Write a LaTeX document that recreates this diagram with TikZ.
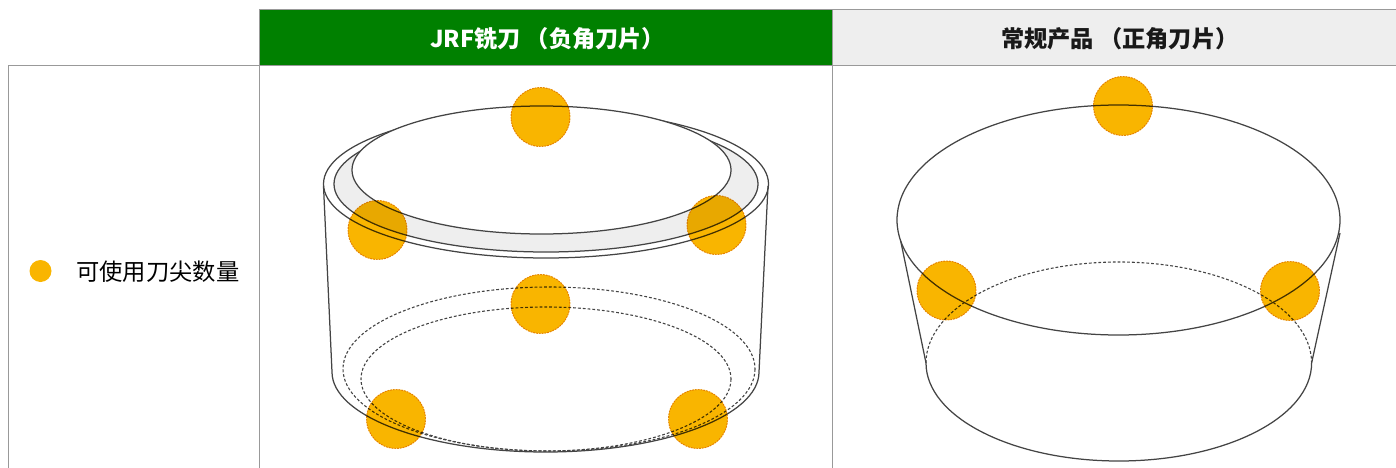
\documentclass[tikz,border=0pt]{standalone}
\usepackage{fontspec}
\setmainfont{Noto Sans CJK SC}
\definecolor{tipc}{HTML}{F9B500}
\definecolor{tipe}{HTML}{E89A10}
\definecolor{rule}{HTML}{999999}
\definecolor{jrfg}{HTML}{008000}
\definecolor{hdrg}{HTML}{EEEEEE}
\definecolor{inkc}{HTML}{444444}
\tikzset{
  tablerule/.style={draw=rule,line width=1pt},
  solidline/.style={draw=inkc,line width=1.25pt},
  hiddenline/.style={draw=inkc,line width=1.1pt,dash pattern=on 2.8pt off 2pt},
  tip/.style={circle,fill=tipc,draw=tipe,line width=0.9pt,dash pattern=on 1.8pt off 1pt,minimum size=59pt,inner sep=0pt},
  hdr/.style={font=\bfseries\fontsize{23.2}{27}\selectfont,inner sep=0pt,anchor=west}
}
\begin{document}
\begin{tikzpicture}[x=1pt,y=-1pt]
\useasboundingbox (0,0) rectangle (1396,468);
% table
\fill[jrfg] (259.5,9.5) rectangle (832.5,65.5);
\fill[hdrg] (832.5,9.5) rectangle (1396,65.5);
\draw[tablerule] (259.5,9.5) -- (1396,9.5);
\draw[tablerule] (8,65.5) -- (1396,65.5);
\draw[tablerule] (8,65.5) -- (8,468);
\draw[tablerule] (259.5,9.5) -- (259.5,468);
\draw[tablerule] (832.5,9.5) -- (832.5,468);
\node[hdr,text=white] (hjrf) at (430,38.5) {JRF铣刀 （负角刀片）};
\node[hdr,text=black!90] (hnorm) at (1001,38.5) {常规产品 （正角刀片）};
\node[circle,fill=tipc,minimum size=22pt,inner sep=0pt] (ldot) at (40.5,271) {};
\node[font=\fontsize{23.3}{27}\selectfont,inner sep=0pt,anchor=west] (ltext) at (76,271.5) {可使用刀尖数量};
% JRF cutter
\coordinate (ao) at (546,184);
\coordinate (am) at (546,184);
\coordinate (ai) at (541.5,170);
\draw[solidline] (ao) ellipse [x radius=222.5,y radius=74];
\draw[solidline,fill=hdrg] (am) ellipse [x radius=212,y radius=68];
\draw[solidline,fill=white] (ai) ellipse [x radius=189.5,y radius=64];
\draw[solidline] (323.5,186) -- (332,372) arc [start angle=180,end angle=0,x radius=213.5,y radius=80] -- (768,186);
\draw[hiddenline] (549,369) ellipse [x radius=206,y radius=82];
\draw[hiddenline] (546,379) ellipse [x radius=185,y radius=72];
% conventional cutter
\draw[solidline] (1118.5,220) ellipse [x radius=221.5,y radius=115];
\draw[solidline] (900.7,241) -- (926,363) arc [start angle=180,end angle=0,x radius=192.8,y radius=98] -- (1340,233);
\draw[hiddenline] (926,363) arc [start angle=180,end angle=360,x radius=192.8,y radius=101];
% cutting edges
\begin{scope}[blend mode=multiply]
\node[tip] (a1) at (540.5,117) {};
\node[tip] (a2) at (377.5,230) {};
\node[tip] (a3) at (716.5,225) {};
\node[tip] (a4) at (540.5,304) {};
\node[tip] (a5) at (396,419) {};
\node[tip] (a6) at (698,419) {};
\node[tip] (b1) at (1123,106) {};
\node[tip] (b2) at (946.5,290.5) {};
\node[tip] (b3) at (1290,291) {};
\end{scope}
\end{tikzpicture}
\end{document}
